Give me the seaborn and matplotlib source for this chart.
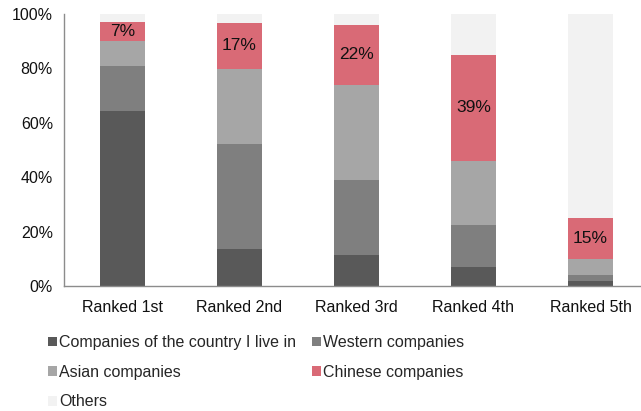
import matplotlib
matplotlib.use("Agg")
import matplotlib.pyplot as plt
from matplotlib.patches import Patch
from matplotlib.ticker import FixedLocator
import seaborn as sns
import numpy as np

categories = ["Ranked 1st", "Ranked 2nd", "Ranked 3rd", "Ranked 4th", "Ranked 5th"]
home_companies = [64.5, 13.5, 11.5, 7.0, 2.0]
western_companies = [16.5, 38.8, 27.5, 15.5, 2.0]
asian_companies = [9.0, 27.5, 35.0, 23.5, 6.0]
chinese_companies = [7, 17, 22, 39, 15]
others = [3.0, 3.2, 4.0, 15.0, 75.0]

series_names = ["Companies of the country I live in", "Western companies",
                "Asian companies", "Chinese companies", "Others"]
series_colors = ["#595959", "#7f7f7f", "#a6a6a6", "#d96a76", "#f2f2f2"]

sns.set_style("white")
plt.rcParams["font.family"] = ["Liberation Sans", "DejaVu Sans"]
plt.rcParams["font.size"] = 11

fig = plt.figure(figsize=(6.41, 4.11), dpi=100)
ax = fig.add_axes([64 / 641, 125 / 411, 577 / 641, 272 / 411])

stack = np.array([home_companies, western_companies, asian_companies,
                  chinese_companies, others])
cum = np.cumsum(stack, axis=0)

# paint the cumulative totals from the top layer down so each band shows through
for level in range(len(series_names) - 1, -1, -1):
    sns.barplot(x=categories, y=cum[level], color=series_colors[level],
                width=0.39, saturation=1, linewidth=0, ax=ax)

for i, share in enumerate(chinese_companies):
    mid = cum[2][i] + share / 2
    ax.text(i, mid, f"{share}%", ha="center", va="center",
            fontsize=12.5, color="#111111")

ax.set_ylim(0, 100)
ax.set_xlim(-0.5, -0.5 + 577 / 117)
ax.set_yticks([0, 20, 40, 60, 80, 100])
ax.set_yticklabels([f"{v}%" for v in range(0, 101, 20)])
ax.xaxis.set_minor_locator(FixedLocator([i + 0.5 for i in range(len(categories))]))
ax.tick_params(axis="x", which="major", length=0, pad=10, labelsize=11.5, colors="#111111")
ax.tick_params(axis="x", which="minor", length=5, width=1, color="#8c8c8c", direction="out")
ax.tick_params(axis="y", length=4, width=1, color="#8c8c8c", direction="out",
               labelsize=11.5, labelcolor="#111111", pad=4)
ax.set_xlabel("")
ax.set_ylabel("")
for side in ("top", "right"):
    ax.spines[side].set_visible(False)
for side in ("left", "bottom"):
    ax.spines[side].set_color("#8c8c8c")
    ax.spines[side].set_linewidth(1)

# legend filled column-wise: left column first, then right column
order = [0, 2, 4, 1, 3]
handles = [Patch(facecolor=series_colors[k], edgecolor="none") for k in order]
labels = [series_names[k] for k in order]
fig.legend(handles, labels, loc="upper left", bbox_to_anchor=(48 / 641, 1 - 335 / 411),
           ncol=2, frameon=False, fontsize=11.5, handlelength=0.55, handleheight=0.55,
           handletextpad=0.15, columnspacing=1.0, labelspacing=0.92, borderpad=0,
           borderaxespad=0)

fig.savefig("out.png", dpi=100)
